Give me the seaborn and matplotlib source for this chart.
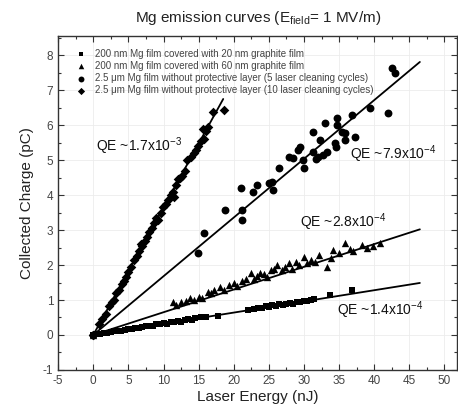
import numpy as np
import pandas as pd
import matplotlib
matplotlib.use("Agg")
import matplotlib.pyplot as plt
from matplotlib.ticker import MultipleLocator
import seaborn as sns

# series labels (legend order)
labels = [
    "200 nm Mg film covered with 20 nm graphite film",
    "200 nm Mg film covered with 60 nm graphite film",
    "2.5 \u03bcm Mg film without protective layer (5 laser cleaning cycles)",
    "2.5 \u03bcm Mg film without protective layer (10 laser cleaning cycles)",
]

# 200 nm / 20 nm graphite (squares)
sq_x = [0, 0.5, 1, 1.5, 2, 2.5, 3, 3.5, 4, 4.5, 5, 5.5, 6, 6.5, 7, 7.5, 8, 8.5, 9, 9.5,
        10, 10.5, 11, 11.5, 12, 12.5, 13, 13.5, 14, 14.5, 15.3, 16, 17.7, 22, 22.9, 23.5,
        24, 24.6, 25, 25.5, 26, 26.5, 27, 27.5, 28, 28.5, 29, 29.5, 30, 30.5, 31, 31.4,
        33.7, 36.8]
sq_y = [0, 0.02, 0.04, 0.05, 0.06, 0.08, 0.1, 0.12, 0.12, 0.15, 0.16, 0.17, 0.2, 0.2,
        0.23, 0.25, 0.27, 0.26, 0.3, 0.3, 0.33, 0.32, 0.36, 0.37, 0.4, 0.38, 0.42, 0.45,
        0.44, 0.48, 0.52, 0.5, 0.53, 0.71, 0.74, 0.78, 0.76, 0.82, 0.8, 0.85, 0.83, 0.88,
        0.86, 0.9, 0.92, 0.9, 0.95, 0.93, 0.96, 0.98, 1.0, 1.03, 1.14, 1.29]

# 200 nm / 60 nm graphite (triangles)
tr_x = [0, 11.3, 11.8, 12.5, 13.2, 13.8, 14.3, 15, 15.5, 16.3, 16.8, 17.2, 18.1, 18.6,
        19.3, 20, 20.5, 21.2, 21.8, 22.4, 22.9, 23.3, 23.8, 24.3, 24.8, 25.3, 25.8, 26.2,
        26.8, 27.3, 27.8, 28.3, 28.8, 29.3, 30, 30.5, 31, 31.5, 32.2, 33.3, 33.8, 34.2,
        35, 35.8, 36.5, 37, 38.2, 39, 39.8, 40.8]
tr_y = [0, 0.94, 0.85, 0.95, 0.98, 1.05, 1.0, 1.1, 1.05, 1.24, 1.2, 1.28, 1.38, 1.3,
        1.42, 1.48, 1.4, 1.55, 1.6, 1.77, 1.6, 1.7, 1.77, 1.75, 1.65, 1.85, 1.9, 2.0,
        1.85, 1.95, 2.05, 1.9, 2.1, 2.0, 2.23, 2.05, 2.15, 2.1, 2.3, 1.95, 2.2, 2.43,
        2.35, 2.62, 2.45, 2.4, 2.58, 2.5, 2.55, 2.62]

# 2.5 um, 5 cleaning cycles (circles)
ci_x = [0, 14.9, 15.7, 18.8, 21.2, 21.2, 21.0, 22.7, 23.3, 25.0, 25.5, 25.6, 26.4, 27.8,
        28.5, 29.2, 29.5, 29.9, 30.0, 31.3, 31.3, 31.7, 32.0, 32.3, 32.7, 33.3, 33.0, 34.4,
        34.6, 34.7, 34.7, 35.4, 35.8, 35.8, 37.3, 36.8, 39.4, 41.9, 42.5, 42.9]
ci_y = [0, 2.34, 2.91, 3.57, 3.57, 3.29, 4.2, 4.09, 4.29, 4.34, 4.37, 4.14, 4.77, 5.09,
        5.06, 5.29, 5.37, 5.0, 4.77, 5.8, 5.23, 5.03, 5.09, 5.57, 5.14, 5.23, 6.06, 5.49,
        5.37, 6.2, 6.0, 5.8, 5.77, 5.57, 5.66, 6.29, 6.49, 6.34, 7.63, 7.51]

# 2.5 um, 10 cleaning cycles (diamonds)
di_x = [0, 0.8, 1.3, 1.8, 2.3, 2.7, 3.0, 3.3, 3.7, 4.1, 4.4, 4.6, 5.0, 5.4, 5.8, 6.2, 6.5,
        6.8, 7.0, 7.3, 7.7, 8.0, 8.3, 8.6, 8.9, 9.2, 9.6, 9.9, 10.3, 10.7, 11.0, 11.3, 11.5,
        11.8, 12.0, 12.3, 12.6, 13.0, 13.4, 13.9, 14.3, 14.6, 14.9, 15.3, 15.7, 15.6, 16.0,
        16.4, 17.0, 18.6]
di_y = [0, 0.3, 0.45, 0.6, 0.82, 0.95, 1.0, 1.2, 1.3, 1.45, 1.55, 1.65, 1.8, 1.95, 2.14,
        2.25, 2.4, 2.6, 2.55, 2.7, 2.8, 2.95, 3.05, 3.2, 3.35, 3.3, 3.5, 3.66, 3.75, 3.85,
        4.0, 4.1, 3.95, 4.3, 4.45, 4.5, 4.55, 4.7, 5.0, 5.1, 5.2, 5.3, 5.4, 5.55, 5.6, 5.9,
        5.85, 5.94, 6.37, 6.43]

# linear fits through the origin (pC per nJ) and their extent
fit_slopes = [0.032, 0.065, 0.168, 0.365]
fit_xmax = [46.5, 46.5, 46.5, 18.5]
qe_texts = ["QE ~1.4x10$^{-4}$", "QE ~2.8x10$^{-4}$", "QE ~7.9x10$^{-4}$", "QE ~1.7x10$^{-3}$"]
qe_pos = [(34.7, 0.71), (29.5, 3.23), (36.5, 5.17), (0.4, 5.4)]

df = pd.concat([
    pd.DataFrame({"energy": sq_x, "charge": sq_y, "series": labels[0]}),
    pd.DataFrame({"energy": tr_x, "charge": tr_y, "series": labels[1]}),
    pd.DataFrame({"energy": ci_x, "charge": ci_y, "series": labels[2]}),
    pd.DataFrame({"energy": di_x, "charge": di_y, "series": labels[3]}),
])

sns.set_theme(style="ticks")
plt.rcParams["font.family"] = ["Liberation Sans", "DejaVu Sans"]
plt.rcParams["mathtext.fontset"] = "custom"
plt.rcParams["mathtext.rm"] = "Liberation Sans"
plt.rcParams["mathtext.it"] = "Liberation Sans:italic"
plt.rcParams["axes.unicode_minus"] = False

fig = plt.figure(figsize=(4.58, 4.11), dpi=100)
ax = fig.add_axes([0.127, 0.1, 0.871, 0.812])
ax.grid(True, color="#ececec", lw=0.6)
ax.set_axisbelow(True)

markers = dict(zip(labels, ["s", "^", "o", "D"]))
sizes = [20, 28, 32, 24]
for lab, s in zip(labels, sizes):
    sns.scatterplot(data=df[df["series"] == lab], x="energy", y="charge", marker=markers[lab],
                    color="black", s=s, linewidth=0, ax=ax, label=lab, zorder=3)

for k, xm, txt, (tx, ty) in zip(fit_slopes, fit_xmax, qe_texts, qe_pos):
    xx = np.array([0, xm])
    ax.plot(xx, k * xx, color="black", lw=1.3, zorder=4)
    ax.text(tx, ty, txt, fontsize=10, color="#111111", va="center", ha="left")

ax.set_xlim(-5, 51.8)
ax.set_ylim(-1, 8.55)
ax.xaxis.set_major_locator(MultipleLocator(5))
ax.xaxis.set_minor_locator(MultipleLocator(2.5))
ax.yaxis.set_major_locator(MultipleLocator(1))
ax.yaxis.set_minor_locator(MultipleLocator(0.5))
ax.tick_params(which="both", direction="in", top=True, right=True, colors="#333333",
               labelsize=8.5, labelcolor="#444444")
ax.tick_params(which="major", length=4, width=0.8)
ax.tick_params(which="minor", length=2, width=0.8)
for sp in ax.spines.values():
    sp.set_color("#333333")
    sp.set_linewidth(1.0)

ax.set_xlabel("Laser Energy (nJ)", fontsize=11, color="#222222", labelpad=2)
ax.set_ylabel("Collected Charge (pC)", fontsize=11, color="#222222", labelpad=6)
ax.set_title("Mg emission curves (E$_{\\mathrm{field}}$= 1 MV/m)", fontsize=11,
             color="#222222", pad=10)

ax.legend(loc="upper left", frameon=False, fontsize=7, handletextpad=0.5,
          borderaxespad=0.9, labelspacing=0.22, markerscale=0.75, labelcolor="#444444")

fig.savefig("out.png", dpi=100)
